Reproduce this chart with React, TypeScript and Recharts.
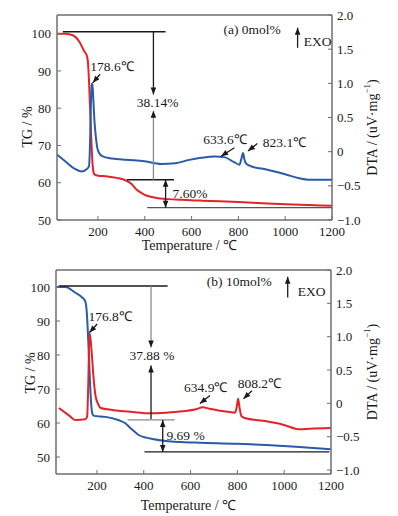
import React from 'react';
import { ComposedChart, Line, XAxis, YAxis, ReferenceLine, ReferenceDot } from 'recharts';

const SERIF = '"Liberation Serif", "Times New Roman", serif';
const RED = '#e3232a';
const BLUE = '#2b5ba8';
const FRAME = '#6e6e6e';
const INK = '#1a1a1a';

const tempTicks = [200, 400, 600, 800, 1000, 1200];
const tgTicks = [50, 60, 70, 80, 90, 100];
const dtaTicks = [-1, -0.5, 0, 0.5, 1, 1.5, 2];

// (a) 0mol% - TG (red)
const tgATemp = [25, 60, 95, 120, 142, 152, 157, 162, 167, 172, 177, 182, 188, 200, 240, 280, 320, 345, 366, 390, 410, 450, 500, 560, 640, 720, 800, 900, 1000, 1100, 1200];
const tgAVal = [100, 100, 99.5, 97.9, 95.2, 94.2, 92.5, 87, 79, 71, 65, 62.6, 62.1, 61.9, 61.7, 61.3, 60.6, 59.6, 58.1, 57.1, 56.5, 55.9, 55.6, 55.4, 55.2, 55.0, 54.8, 54.5, 54.2, 54.0, 53.8];
// (a) 0mol% - DTA (blue)
const dtaATemp = [25, 60, 100, 130, 150, 162, 166, 170, 173, 176, 180, 185, 190, 197, 205, 220, 260, 320, 400, 470, 530, 590, 640, 700, 740, 780, 805, 813, 820, 826, 835, 860, 920, 1000, 1060, 1100, 1150, 1200];
const dtaAVal = [-0.04, -0.14, -0.25, -0.29, -0.26, -0.21, 0.1, 0.7, 0.97, 1.0, 0.78, 0.45, 0.25, 0.06, -0.02, -0.07, -0.1, -0.12, -0.14, -0.18, -0.17, -0.12, -0.09, -0.07, -0.08, -0.15, -0.19, -0.1, -0.02, -0.12, -0.18, -0.22, -0.26, -0.33, -0.39, -0.41, -0.41, -0.41];

// (b) 10mol% - TG (blue)
const tgBTemp = [28, 65, 108, 137, 150, 156, 161, 166, 171, 176, 181, 187, 237, 294, 320, 337, 360, 380, 410, 437, 495, 560, 638, 800, 924, 1050, 1200];
const tgBVal = [100, 100, 98.3, 96.9, 95.8, 93, 87, 79, 71, 65, 62.6, 62.1, 61.8, 60.8, 60, 58.9, 57.5, 56.4, 55.7, 55.3, 54.7, 54.4, 54.2, 53.9, 53.5, 53, 52.3];
// (b) 10mol% - DTA (red)
const dtaBTemp = [37, 80, 108, 150, 158, 163, 168, 172, 178, 185, 194, 205, 216, 266, 352, 423, 495, 566, 624, 652, 680, 709, 767, 790, 797, 803, 809, 817, 831, 924, 995, 1067, 1110, 1200];
const dtaBVal = [-0.07, -0.18, -0.25, -0.24, -0.2, 0.3, 1.05, 0.98, 0.74, 0.4, 0.11, -0.01, -0.07, -0.1, -0.13, -0.15, -0.14, -0.12, -0.09, -0.06, -0.08, -0.1, -0.13, -0.14, -0.06, 0.07, -0.06, -0.19, -0.22, -0.27, -0.32, -0.39, -0.38, -0.37];

// annotations, in data units (temperature, TG %)
const hLinesA = [
  { x1: 50, x2: 489, y: 100.5, color: INK },
  { x1: 324, x2: 525, y: 60.8, color: INK },
  { x1: 410, x2: 1200, y: 53.3, color: '#555' },
];
const arrowsA = [
  { x1: 437, y1: 100.5, x2: 437, y2: 83.7, both: false, color: INK },
  { x1: 437, y1: 60.8, x2: 437, y2: 79.3, both: false, color: '#8a8a8a' },
  { x1: 489, y1: 60.8, x2: 489, y2: 53.3, both: true, color: INK },
  { x1: 209, y1: 89.1, x2: 178, y2: 86.8, both: false, color: INK },
  { x1: 783, y1: 69.4, x2: 726, y2: 67.1, both: false, color: INK },
  { x1: 881, y1: 70.5, x2: 841, y2: 68.5, both: false, color: INK },
  { x1: 1053, y1: 96.2, x2: 1053, y2: 101.6, both: false, color: INK },
];
const textsA = [
  { x: 455, y: 81.6, s: '38.14%', anchor: 'middle' },
  { x: 519, y: 57.1, s: '7.60%', anchor: 'start' },
  { x: 260, y: 91.1, s: '178.6℃', anchor: 'middle' },
  { x: 743, y: 71.6, s: '633.6℃', anchor: 'middle' },
  { x: 997, y: 70.7, s: '823.1℃', anchor: 'middle' },
  { x: 859, y: 101.1, s: '(a) 0mol%', anchor: 'middle' },
  { x: 1079, y: 97.8, s: 'EXO', anchor: 'start' },
];

const hLinesB = [
  { x1: 36, x2: 502, y: 100.3, color: INK },
  { x1: 331, x2: 532, y: 60.9, color: '#8a8a8a' },
  { x1: 403, x2: 1193, y: 51.5, color: INK },
];
const arrowsB = [
  { x1: 431, y1: 100.3, x2: 431, y2: 82.2, both: false, color: '#8a8a8a' },
  { x1: 431, y1: 61.2, x2: 431, y2: 76.9, both: false, color: INK },
  { x1: 481, y1: 60.9, x2: 481, y2: 51.5, both: true, color: INK },
  { x1: 201, y1: 89.1, x2: 168, y2: 86.6, both: false, color: INK },
  { x1: 683, y1: 68.1, x2: 640, y2: 65.7, both: false, color: INK },
  { x1: 862, y1: 69.5, x2: 826, y2: 67.1, both: false, color: INK },
  { x1: 1015, y1: 96.9, x2: 1015, y2: 103.0, both: false, color: INK },
];
const textsB = [
  { x: 435, y: 79.8, s: '37.88 %', anchor: 'middle' },
  { x: 497, y: 56.3, s: '9.69 %', anchor: 'start' },
  { x: 256, y: 91.2, s: '176.8℃', anchor: 'middle' },
  { x: 665, y: 70.5, s: '634.9℃', anchor: 'middle' },
  { x: 894, y: 71.7, s: '808.2℃', anchor: 'middle' },
  { x: 808, y: 101.5, s: '(b) 10mol%', anchor: 'middle' },
  { x: 1058, y: 98.8, s: 'EXO', anchor: 'start' },
];

const zip = (ts: number[], vs: number[]) => ts.map((t, i) => ({ t, v: vs[i] }));

const fmtDta = (v: number) => (v === 0 ? '0' : (v < 0 ? '−' : '') + Math.abs(v).toFixed(1));

const tickStyle = { fill: INK, fontSize: 13, fontFamily: SERIF };

const arrowShape = (both: boolean, color: string) => (p: any) => {
  const { x1, y1, x2, y2 } = p;
  const head = (tx: number, ty: number, fx: number, fy: number) => {
    const a = Math.atan2(ty - fy, tx - fx);
    const L = 7;
    const W = 2.8;
    const bx = tx - L * Math.cos(a);
    const by = ty - L * Math.sin(a);
    const pts = `${tx},${ty} ${bx + W * Math.sin(a)},${by - W * Math.cos(a)} ${bx - W * Math.sin(a)},${by + W * Math.cos(a)}`;
    return <polygon points={pts} fill={INK} />;
  };
  return (
    <g>
      <line x1={x1} y1={y1} x2={x2} y2={y2} stroke={color} strokeWidth={1.3} />
      {head(x2, y2, x1, y1)}
      {both && head(x1, y1, x2, y2)}
    </g>
  );
};

const textShape = (s: string, anchor: string) => (p: any) => (
  <text x={p.cx} y={p.cy} textAnchor={anchor} dominantBaseline="central" fill={INK} fontSize={13.5} fontFamily={SERIF}>
    {s}
  </text>
);

interface PanelProps {
  height: number;
  top: number;
  leftW: number;
  rightW: number;
  xH: number;
  tgDomain: [number, number];
  dtaDomain: [number, number];
  tg: { t: number; v: number }[];
  dta: { t: number; v: number }[];
  tgColor: string;
  dtaColor: string;
  hLines: typeof hLinesA;
  arrows: typeof arrowsA;
  texts: typeof textsA;
  tgTitle: { dx: number; dy: number };
  dtaTitle: { dx: number; dy: number };
  xTitle: { dx: number; dy: number };
}

const Panel: React.FC<PanelProps> = (pp) => {
  const tgTitle = (p: any) => {
    const vb = p.viewBox || { x: 0, y: 0, width: 0, height: 0 };
    const cx = vb.x + pp.tgTitle.dx;
    const cy = vb.y + vb.height / 2 + pp.tgTitle.dy;
    return (
      <text x={cx} y={cy} transform={`rotate(-90 ${cx} ${cy})`} textAnchor="middle" dominantBaseline="central" fill={INK} fontSize={14} fontFamily={SERIF}>
        TG / %
      </text>
    );
  };
  const dtaTitle = (p: any) => {
    const vb = p.viewBox || { x: 0, y: 0, width: 0, height: 0 };
    const cx = vb.x + pp.dtaTitle.dx;
    const cy = vb.y + vb.height / 2 + pp.dtaTitle.dy;
    return (
      <text x={cx} y={cy} transform={`rotate(-90 ${cx} ${cy})`} textAnchor="middle" dominantBaseline="central" fill={INK} fontSize={14} fontFamily={SERIF}>
        DTA / (uV·mg<tspan dy={-5} fontSize={9}>−1</tspan><tspan dy={5}>)</tspan>
      </text>
    );
  };
  const xTitle = (p: any) => {
    const vb = p.viewBox || { x: 0, y: 0, width: 0, height: 0 };
    return (
      <text x={vb.x + vb.width / 2 + pp.xTitle.dx} y={vb.y + pp.xTitle.dy} textAnchor="middle" fill={INK} fontSize={14} fontFamily={SERIF}>
        Temperature / ℃
      </text>
    );
  };

  const axisLine = { stroke: FRAME, strokeWidth: 1.5 };

  return (
    <ComposedChart width={398} height={pp.height} margin={{ top: pp.top, right: 0, bottom: 0, left: 0 }}>
      <XAxis
        type="number"
        dataKey="t"
        domain={[25, 1200]}
        ticks={tempTicks}
        allowDataOverflow
        height={pp.xH}
        tickSize={-4}
        tickMargin={11}
        tick={tickStyle}
        axisLine={axisLine}
        tickLine={{ stroke: FRAME }}
        label={{ content: xTitle }}
      />
      <YAxis
        yAxisId="tg"
        type="number"
        domain={pp.tgDomain}
        ticks={tgTicks}
        allowDataOverflow
        width={pp.leftW}
        tickSize={-4}
        tickMargin={10}
        tick={tickStyle}
        axisLine={axisLine}
        tickLine={{ stroke: FRAME }}
        label={{ content: tgTitle }}
      />
      <YAxis
        yAxisId="dta"
        orientation="right"
        type="number"
        domain={pp.dtaDomain}
        ticks={dtaTicks}
        allowDataOverflow
        width={pp.rightW}
        tickSize={-4}
        tickMargin={9}
        tick={tickStyle}
        tickFormatter={fmtDta}
        axisLine={axisLine}
        tickLine={{ stroke: FRAME }}
        label={{ content: dtaTitle }}
      />
      <ReferenceLine yAxisId="tg" y={pp.tgDomain[1]} stroke={FRAME} strokeWidth={1.5} ifOverflow="visible" />
      <Line yAxisId="tg" data={pp.tg} dataKey="v" type="monotone" stroke={pp.tgColor} strokeWidth={2} dot={false} isAnimationActive={false} />
      <Line yAxisId="dta" data={pp.dta} dataKey="v" type="monotone" stroke={pp.dtaColor} strokeWidth={2} dot={false} isAnimationActive={false} />
      {pp.hLines.map((l, i) => (
        <ReferenceLine
          key={`h${i}`}
          yAxisId="tg"
          segment={[{ x: l.x1, y: l.y }, { x: l.x2, y: l.y }]}
          stroke={l.color}
          strokeWidth={1.3}
        />
      ))}
      {pp.arrows.map((a, i) => (
        <ReferenceLine
          key={`a${i}`}
          yAxisId="tg"
          segment={[{ x: a.x1, y: a.y1 }, { x: a.x2, y: a.y2 }]}
          shape={arrowShape(a.both, a.color)}
        />
      ))}
      {pp.texts.map((t, i) => (
        <ReferenceDot key={`t${i}`} yAxisId="tg" x={t.x} y={t.y} r={1} shape={textShape(t.s, t.anchor)} />
      ))}
    </ComposedChart>
  );
};

export default function App() {
  return (
    <div style={{ position: 'absolute', left: 0, top: 0, width: 398, height: 516, background: '#fff' }}>
      <Panel
        height={256}
        top={15}
        leftW={57}
        rightW={66}
        xH={36}
        tgDomain={[50, 105]}
        dtaDomain={[-1, 2]}
        tg={zip(tgATemp, tgAVal)}
        dta={zip(dtaATemp, dtaAVal)}
        tgColor={RED}
        dtaColor={BLUE}
        hLines={hLinesA}
        arrows={arrowsA}
        texts={textsA}
        tgTitle={{ dx: 27, dy: 9.5 }}
        dtaTitle={{ dx: 40, dy: 10 }}
        xTitle={{ dx: -5, dy: 30 }}
      />
      <Panel
        height={260}
        top={14}
        leftW={56}
        rightW={67}
        xH={42}
        tgDomain={[45, 105]}
        dtaDomain={[-1.06, 2]}
        tg={zip(tgBTemp, tgBVal)}
        dta={zip(dtaBTemp, dtaBVal)}
        tgColor={BLUE}
        dtaColor={RED}
        hLines={hLinesB}
        arrows={arrowsB}
        texts={textsB}
        tgTitle={{ dx: 30, dy: 1 }}
        dtaTitle={{ dx: 41, dy: 0 }}
        xTitle={{ dx: -5, dy: 36 }}
      />
    </div>
  );
}
